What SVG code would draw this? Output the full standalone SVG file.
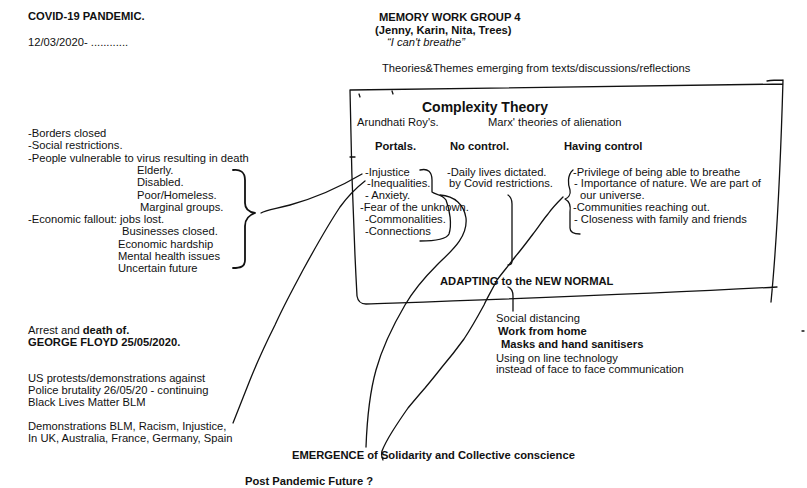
<svg xmlns="http://www.w3.org/2000/svg" width="807" height="488" viewBox="0 0 807 488">
<style>
text{font-family:"Liberation Sans",Arial,Helvetica,sans-serif;font-size:11.2px;fill:#111}
.b{font-weight:bold}
.i{font-style:italic}
.ink{fill:none;stroke:#111;stroke-width:1.3;stroke-linecap:round;stroke-linejoin:round}
</style>
<rect width="807" height="488" fill="#fff"/>

<g id="covid">
<text class="b" x="28" y="20">COVID-19 PANDEMIC.</text>
<text x="28" y="46">12/03/2020- ............</text>
</g>

<g id="group">
<text class="b" x="379" y="21">MEMORY WORK GROUP 4</text>
<text class="b" x="375" y="34">(Jenny, Karin, Nita, Trees)</text>
<text class="i" x="387" y="46">“I can't breathe”</text>
<text x="382" y="72">Theories&amp;Themes emerging from texts/discussions/reflections</text>
</g>

<g id="pandemic-effects">
<text x="28" y="137">-Borders closed</text>
<text x="28" y="149.3">-Social restrictions.</text>
<text x="28" y="161.6">-People vulnerable to virus resulting in death</text>
<text x="137" y="173.9">Elderly.</text>
<text x="137" y="186.2">Disabled.</text>
<text x="137" y="198.5">Poor/Homeless.</text>
<text x="140" y="210.8">Marginal groups.</text>
<text x="28" y="223.1">-Economic fallout: jobs lost.</text>
<text x="122" y="235.4">Businesses closed.</text>
<text x="118" y="247.7">Economic hardship</text>
<text x="118" y="260">Mental health issues</text>
<text x="118" y="272.3">Uncertain future</text>
</g>

<g id="floyd">
<text x="28" y="334">Arrest and <tspan class="b">death of.</tspan></text>
<text class="b" x="28" y="346">GEORGE FLOYD 25/05/2020.</text>
<text x="28" y="382">US protests/demonstrations against</text>
<text x="28" y="394">Police brutality 26/05/20 - continuing</text>
<text x="28" y="406">Black Lives Matter BLM</text>
<text x="28" y="430">Demonstrations BLM, Racism, Injustice,</text>
<text x="28" y="442">In UK, Australia, France, Germany, Spain</text>
</g>

<g id="theory-box">
<path class="ink" d="M350,90 C460,88 620,86 783,84 M767,81 C773,80 778,80 783,80 M783,80 C781,150 778,230 771,302 M350,90 C351,160 354,240 357,296 C358,302 361,304 366,304 C480,300 630,295 777,287 M350,157 L355,157 M359,94 L360,97 M392,91 L393,94"/>
<text class="b" x="422" y="112" style="font-size:14px">Complexity Theory</text>
<text x="357" y="126">Arundhati Roy's.</text>
<text x="488" y="126">Marx' theories of alienation</text>
<text class="b" x="375" y="150">Portals.</text>
<text class="b" x="450" y="150">No control.</text>
<text class="b" x="564" y="150">Having control</text>
<text x="365" y="176">-Injustice</text>
<text x="367" y="187">-Inequalities.</text>
<text x="365" y="199">- Anxiety.</text>
<text x="360" y="211">-Fear of the unknown.</text>
<text x="365" y="223">-Commonalities.</text>
<text x="365" y="235">-Connections</text>
<text x="447" y="176">-Daily lives dictated.</text>
<text x="449" y="187">by Covid restrictions.</text>
<text x="573" y="176">-Privilege of being able to breathe</text>
<text x="574" y="187">- Importance of nature. We are part of</text>
<text x="580" y="199">our universe.</text>
<text x="573" y="211">-Communities reaching out.</text>
<text x="574" y="223">- Closeness with family and friends</text>
<text class="b" x="440" y="285">ADAPTING to the NEW NORMAL</text>
</g>

<g id="new-normal">
<text x="496" y="322">Social distancing</text>
<text class="b" x="498" y="335">Work from home</text>
<text class="b" x="501" y="348">Masks and hand sanitisers</text>
<text x="496" y="362">Using on line technology</text>
<text x="496" y="373">instead of face to face communication</text>
</g>

<g id="emergence">
<text class="b" x="292" y="459">EMERGENCE of Solidarity and Collective conscience</text>
</g>

<g id="future">
<text class="b" x="245" y="485">Post Pandemic Future ?</text>
</g>

<g id="connectors">
<!-- left brace -->
<path class="ink" d="M233,170 C240,169 245,172 245,180 L245,203 C245,209 249,212 255,213 C249,215 245,219 245,226 L245,260 C245,267 240,268 233,268" style="stroke-width:1.8"/>
<!-- brace to Injustice -->
<path class="ink" d="M261,213 C266,210 275,209 290,205 C315,198 340,187 362,174"/>
<!-- BLM to Inequalities -->
<path class="ink" d="M233,423 C238,410 244,395 250,380 C258,360 266,343 275,325 C284,305 294,287 303,270 C314,250 326,228 340,207 C348,196 356,188 365,181"/>
<!-- Portals inner curve -->
<path class="ink" d="M420,170 C428,168 432,172 432,180 L432,192 C436,195 442,194 446,200 C450,210 452,225 449,234 C446,240 432,241 420,241"/>
<!-- Portals to EMERGENCE -->
<path class="ink" d="M440,195 C455,196 464,205 466,218 C468,238 450,252 437,265 C422,280 412,293 405,305 C395,322 383,345 376,370 C369,395 367,420 366,447"/>
<!-- No control line -->
<path class="ink" d="M508,195 C511,197 512,199 512,204 L512,261 C512,264 510,265 508,265"/>
<!-- Having control brace -->
<path class="ink" d="M573,170 C567,175 568,185 570,190 C571,195 568,198 565,199 C569,201 571,205 570,212 L570,228 C570,233 575,234 580,234"/>
<!-- Having control to EMERGENCE -->
<path class="ink" d="M563,197 C557,203 552,208 548,214 C542,221 538,228 533,234 C527,242 521,250 515,257 C509,265 503,272 497,280 C492,290 487,298 484,305 C478,316 472,327 464,339 C456,350 448,360 442,367 C435,376 430,382 425,388 C418,396 413,402 408,408 C401,418 397,424 392,432 C387,440 384,446 382,451 C381,455 382,458 383,460"/>
<!-- ADAPTING to list -->
<path class="ink" d="M508,287 C511,288 513,291 513,296 L513,311"/>
<path class="ink" d="M802,331 L804,331"/>
</g>
</svg>
